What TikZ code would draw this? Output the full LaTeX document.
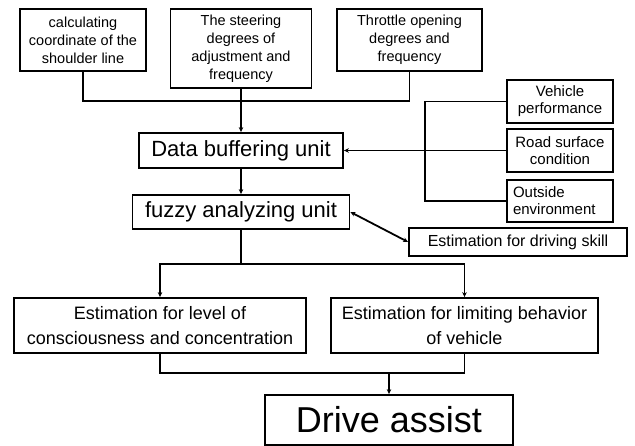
\documentclass[tikz,border=0pt]{standalone}
\usepackage{fontspec}
\setmainfont{Liberation Sans}
\usetikzlibrary{arrows.meta, positioning, calc}

\begin{document}
\begin{tikzpicture}[x=1pt, y=-1pt, line width=1.8pt,
    block/.style={rectangle, draw=black, line width=1.8pt, align=center,
                  inner sep=2pt, minimum width=#1},
    small/.style={font=\fontsize{14.5}{18}\selectfont},
    side/.style={font=\fontsize{15}{17}\selectfont},
    unit/.style={font=\fontsize{22}{26}\selectfont},
    est/.style={font=\fontsize{18}{25}\selectfont},
    flow/.style={-{Stealth[length=5pt,width=4.5pt]}},
    both/.style={{Stealth[length=5pt,width=4.5pt]}-{Stealth[length=5pt,width=4.5pt]}}
]
\useasboundingbox (0,0) rectangle (635,446);

% Measured quantities
\node[block=126pt, small, minimum height=62pt] (coord) at (83,40)
    {calculating\\coordinate of the\\shoulder line};
\node[block=141pt, small, minimum height=79pt] (steer) at (241,48.5)
    {The steering\\degrees of\\adjustment and\\frequency};
\node[block=145pt, small, minimum height=62pt] (throttle) at (409.5,40)
    {Throttle opening\\degrees and\\frequency};

% Conditions
\node[block=106pt, side, minimum height=43pt] (vehicle) at (560,101.5)
    {Vehicle\\performance};
\node[block=106pt, side, minimum height=43pt] (road) at (560,150.5)
    {Road surface\\condition};
\node[block=106pt, side, minimum height=42pt, align=left, text width=94pt] (outside) at (560,201)
    {Outside\\environment};

% Units
\node[block=204pt, unit, minimum height=35pt] (buffer) at (241,150.5) {Data buffering unit};
\node[block=217pt, unit, minimum height=34pt] (fuzzy) at (241,212) {fuzzy analyzing unit};
\node[block=218pt, font=\fontsize{16}{18}\selectfont, minimum height=28pt] (skill) at (518,242)
    {Estimation for driving skill};

% Estimations
\node[block=292pt, est, minimum height=55pt] (level) at (160,325.5)
    {Estimation for level of\\consciousness and concentration};
\node[block=267pt, est, minimum height=55pt] (limit) at (464.5,325.5)
    {Estimation for limiting behavior\\of vehicle};

% Output
\node[block=248pt, font=\fontsize{36}{40}\selectfont, minimum height=50pt] (assist) at (389,420)
    {Drive assist};

% Junctions
\coordinate (topbus) at (241,101);
\coordinate (bend) at (425,150.5);
\coordinate (split) at (241,264);
\coordinate (merge) at (389,373);

% Connections
\draw (coord.south) |- (topbus) -| (throttle.south);
\draw[flow] (steer.south) -- (buffer.north);
\draw (vehicle.west) -| (bend |- outside.west) -- (outside.west);
\draw[flow] (road.west) -- (buffer.east);
\draw[flow] (buffer.south) -- (fuzzy.north);
\draw[both] (fuzzy.east) -- (skill.west);
\draw (fuzzy.south) -- (split);
\foreach \n in {level,limit}
    \draw[flow] (split) -| (\n.north);
\draw (level.south) |- (merge) -| (limit.south);
\draw[flow] (merge) -- (assist.north);

\end{tikzpicture}
\end{document}
